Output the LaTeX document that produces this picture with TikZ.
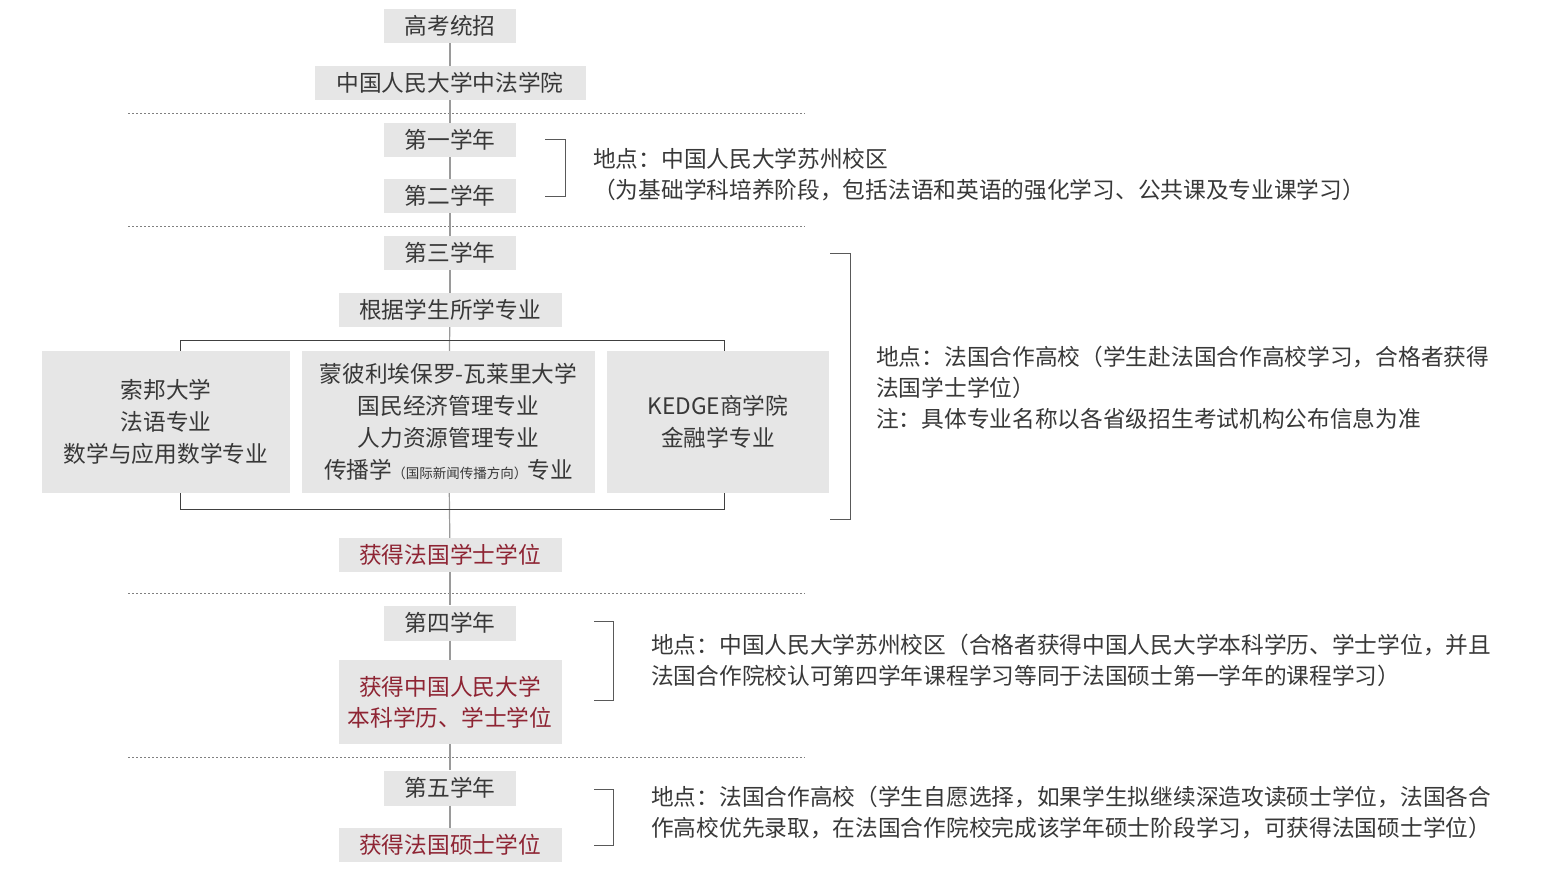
\documentclass[tikz,border=0pt]{standalone}
\usepackage{fontspec}
\setmainfont{Noto Sans CJK SC}
\usetikzlibrary{positioning}
\definecolor{boxgray}{HTML}{E6E6E6}
\definecolor{txtgray}{HTML}{383838}
\definecolor{degred}{HTML}{8E2433}
\definecolor{linegray}{HTML}{9A9A9A}
\newcommand{\smalltxt}[1]{{\fontsize{13.5}{16}\selectfont #1}}

\begin{document}
\begin{tikzpicture}[x=1pt,y=-1pt,
	every node/.style={font=\fontsize{22.7}{31}\selectfont,text=txtgray},
	stepbox/.style={fill=boxgray,inner sep=0pt,minimum height=34pt},
	degbox/.style={stepbox,text=degred,align=center},
	unibox/.style={fill=boxgray,inner sep=0pt,minimum height=142pt,align=center,font=\fontsize{22.7}{32}\selectfont},
	note/.style={anchor=west,align=left,inner sep=0pt},
	link/.style={linegray,line width=1.2pt},
	branch/.style={black!75,line width=1pt},
	brace/.style={black!65,line width=1pt},
	sep/.style={gray,dash pattern=on 2pt off 2pt,line width=0.9pt}]
	\useasboundingbox (0,0) rectangle (1546,868);
	% period separators
	\foreach \y in {113,226,593,757}
		\draw[sep] (128,\y) -- (805,\y);
	% main column
	\node[stepbox,minimum width=132pt] (gk) at (450,26) {高考统招};
	\node[stepbox,minimum width=271pt] (zf) at (450,83) {中国人民大学中法学院};
	\node[stepbox,minimum width=132pt] (y1) at (450,140) {第一学年};
	\node[stepbox,minimum width=132pt] (y2) at (450,196) {第二学年};
	\node[stepbox,minimum width=132pt] (y3) at (450,253) {第三学年};
	\node[stepbox,minimum width=223pt] (gj) at (450,310) {根据学生所学专业};
	\node[unibox,minimum width=248pt] (sorb) at (166,422) {索邦大学\\法语专业\\数学与应用数学专业};
	\node[unibox,minimum width=293pt] (mont) at (448.5,422) {蒙彼利埃保罗-瓦莱里大学\\国民经济管理专业\\人力资源管理专业\\传播学\smalltxt{（国际新闻传播方向）}专业};
	\node[unibox,minimum width=222pt] (kedge) at (718,422) {KEDGE商学院\\金融学专业};
	\node[degbox,minimum width=223pt] (bs) at (450,555) {获得法国学士学位};
	\node[stepbox,minimum width=132pt,minimum height=35pt] (y4) at (450,623) {第四学年};
	\node[degbox,minimum width=223pt,minimum height=84pt] (bk) at (450,702) {获得中国人民大学\\本科学历、学士学位};
	\node[stepbox,minimum width=132pt,minimum height=35pt] (y5) at (450,788) {第五学年};
	\node[degbox,minimum width=223pt] (ms) at (450,845) {获得法国硕士学位};
	\draw[link] (gk) -- (zf);
	\draw[link] (zf) -- (y1);
	\draw[link] (y1) -- (y2);
	\draw[link] (y2) -- (y3);
	\draw[link] (y3) -- (gj);
	\draw[link] (gj) -- (mont);
	\draw[link] (mont) -- (bs);
	\draw[link] (bs) -- (y4);
	\draw[link] (y4) -- (bk);
	\draw[link] (bk) -- (y5);
	\draw[link] (y5) -- (ms);
	% branches to the partner schools
	\coordinate (tl) at (180,340);
	\coordinate (tr) at (724,340);
	\coordinate (bl) at (180,509);
	\coordinate (br) at (724,509);
	\draw[branch] (sorb.north -| tl) -- (tl) -- (tr) -- (kedge.north -| tr);
	\draw[branch] (sorb.south -| bl) -- (bl) -- (br) -- (kedge.south -| br);
	% brackets
	\draw[brace] (545,139) -- (565,139) -- (565,196) -- (545,196);
	\draw[brace] (830,253) -- (850,253) -- (850,519) -- (830,519);
	\draw[brace] (594,621) -- (613,621) -- (613,700) -- (594,700);
	\draw[brace] (594,789) -- (613,789) -- (613,845) -- (594,845);
	% notes
	\node[note] (n12) at (593,174.5) {地点：中国人民大学苏州校区\\（为基础学科培养阶段，包括法语和英语的强化学习、公共课及专业课学习）};
	\node[note] (n3) at (876,388) {地点：法国合作高校（学生赴法国合作高校学习，合格者获得\\法国学士学位）\\注：具体专业名称以各省级招生考试机构公布信息为准};
	\node[note] (n4) at (651,660.5) {地点：中国人民大学苏州校区（合格者获得中国人民大学本科学历、学士学位，并且\\法国合作院校认可第四学年课程学习等同于法国硕士第一学年的课程学习）};
	\node[note] (n5) at (651,812.5) {地点：法国合作高校（学生自愿选择，如果学生拟继续深造攻读硕士学位，法国各合\\作高校优先录取，在法国合作院校完成该学年硕士阶段学习，可获得法国硕士学位）};
\end{tikzpicture}
\end{document}
